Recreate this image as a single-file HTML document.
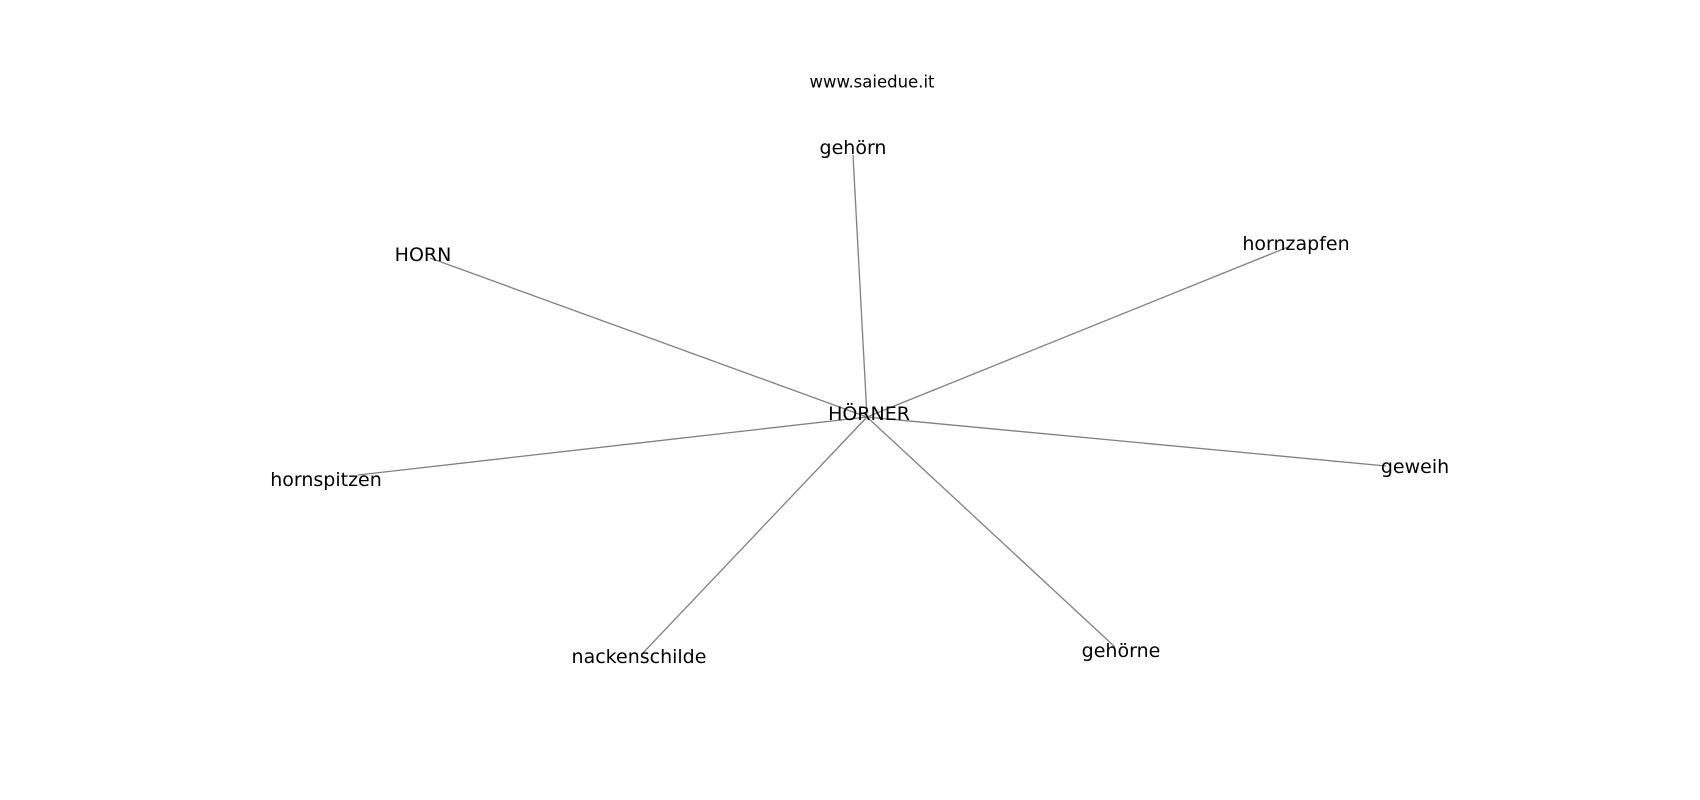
<!DOCTYPE html>
<html><head><meta charset="utf-8"><style>
html,body{margin:0;padding:0;background:#fff;width:1700px;height:800px;overflow:hidden}
svg text{font-family:"DejaVu Sans","Liberation Sans",sans-serif;fill:#000;text-anchor:middle;dominant-baseline:central}
</style></head><body>
<svg width="1700" height="800" viewBox="0 0 1700 800">
<g stroke="#808080" stroke-width="1.3">
<line x1="867" y1="417" x2="853" y2="155"/>
<line x1="867" y1="417" x2="430" y2="258"/>
<line x1="867" y1="417" x2="1288" y2="247"/>
<line x1="867" y1="417" x2="358" y2="475"/>
<line x1="867" y1="417" x2="1386" y2="466"/>
<line x1="867" y1="417" x2="642" y2="654"/>
<line x1="867" y1="417" x2="1115" y2="647"/>
</g>
<text x="872" y="82" font-size="16.5">www.saiedue.it</text>
<text x="853" y="148" font-size="19">gehörn</text>
<text x="423" y="255" font-size="19">HORN</text>
<text x="1296" y="244" font-size="19">hornzapfen</text>
<text x="869" y="414" font-size="19">HÖRNER</text>
<text x="326" y="480" font-size="19">hornspitzen</text>
<text x="1415" y="467" font-size="19">geweih</text>
<text x="639" y="657" font-size="19">nackenschilde</text>
<text x="1121" y="651" font-size="19">gehörne</text>
</svg>
</body></html>
